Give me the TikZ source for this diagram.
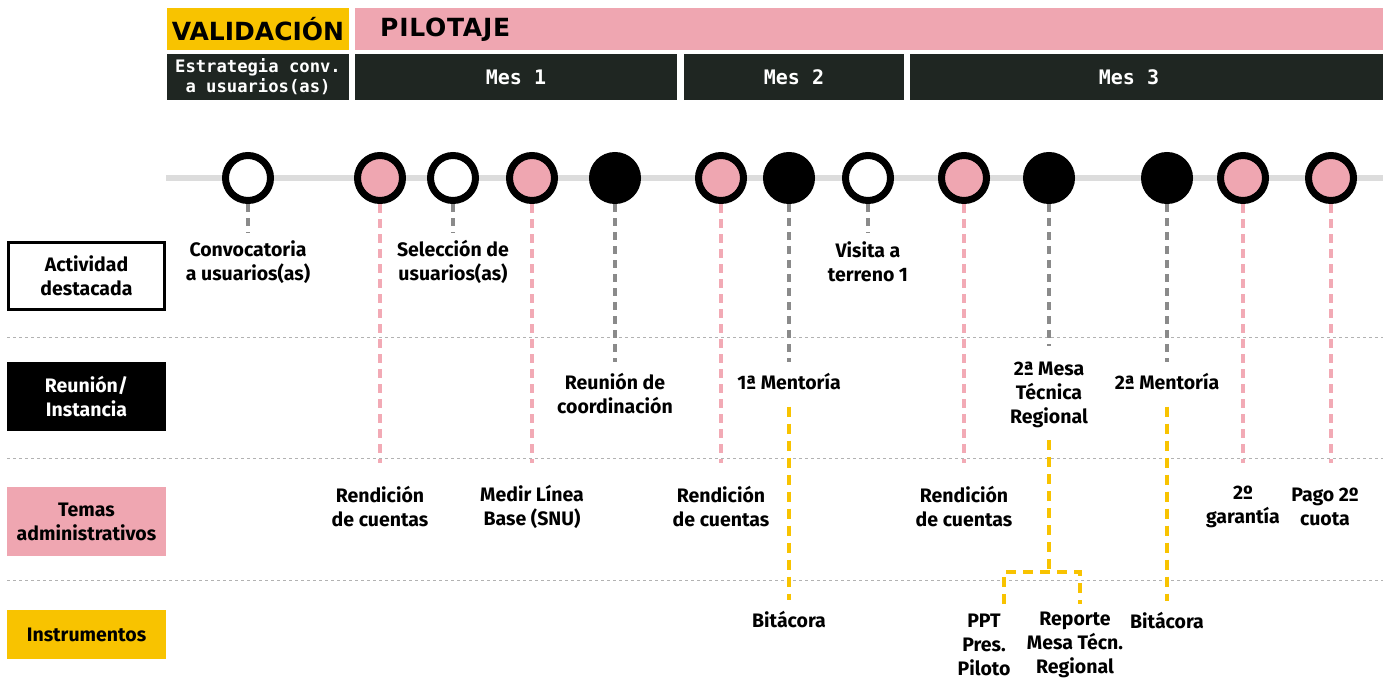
\documentclass[tikz,border=0pt]{standalone}
\usepackage{fontspec}
\setmainfont{Fira Sans}
\newfontfamily\cabfont{DejaVu Sans}
\newfontfamily\mesfont{DejaVu Sans Mono}
\usetikzlibrary{positioning}
\definecolor{amarillo}{HTML}{F8C300}
\definecolor{rosa}{HTML}{EFA6B1}
\definecolor{oscuro}{HTML}{1F2622}
\definecolor{linea}{HTML}{DCDCDC}
\definecolor{grisdash}{HTML}{8A8A8A}
\definecolor{rosadash}{HTML}{F2AAB5}
\tikzset{
	hito/.style={circle, draw=black, line width=7pt, minimum size=45pt, inner sep=0pt},
	hitoblanco/.style={hito, fill=white},
	hitorosa/.style={hito, fill=rosa},
	hitonegro/.style={hito, fill=black},
	etiqueta/.style={align=center, inner sep=0pt, font=\bfseries\fontsize{19.5}{24}\selectfont},
	caja/.style={align=center, inner sep=0pt, minimum width=159pt, font=\bfseries\fontsize{19.5}{24}\selectfont},
	mes/.style={fill=oscuro, text=white, inner sep=0pt, align=center},
	congris/.style={draw=grisdash, line width=4pt, dash pattern=on 8pt off 6pt},
	conrosa/.style={draw=rosadash, line width=4pt, dash pattern=on 9pt off 6pt},
	conamar/.style={draw=amarillo, line width=4pt, dash pattern=on 10pt off 7pt},
	separa/.style={draw=black!30, line width=0.8pt, dash pattern=on 3pt off 3pt}
}
\begin{document}
\begin{tikzpicture}[x=1pt,y=-1pt]
			%%%%% START %%%%%
			\useasboundingbox (0,0) rectangle (1383,683);
			
			% cabecera
			\node[mes, fill=amarillo, text=black, minimum width=182pt, minimum height=42pt, font=\cabfont\bfseries\fontsize{25}{30}\selectfont] (valid) at (258,29) {VALIDACIÓN};
			\fill[rosa] (355,8) rectangle (1383,50);
			\node[anchor=west, inner sep=0pt, font=\cabfont\bfseries\fontsize{25}{30}\selectfont] (pilot) at (380,30) {\addfontfeature{LetterSpace=3}PILOTAJE};
			
			\node[mes, minimum width=182pt, minimum height=46pt, font=\mesfont\bfseries\fontsize{17.2}{20}\selectfont] (estr) at (258,77) {Estrategia conv.\\a usuarios(as)};
			\fill[oscuro] (355,54) rectangle (677,100);
			\fill[oscuro] (684,54) rectangle (904,100);
			\fill[oscuro] (910,54) rectangle (1383,100);
			\node[text=white, inner sep=0pt, font=\mesfont\bfseries\fontsize{20}{20}\selectfont] (mes1) at (516,77) {Mes 1};
			\node[text=white, inner sep=0pt, font=\mesfont\bfseries\fontsize{20}{20}\selectfont] (mes2) at (794,77) {Mes 2};
			\node[text=white, inner sep=0pt, font=\mesfont\bfseries\fontsize{20}{20}\selectfont] (mes3) at (1129,77) {Mes 3};
			
			% filas
			\draw[separa] (7,337) -- (1383,337);
			\draw[separa] (7,458) -- (1383,458);
			\draw[separa] (7,580) -- (1383,580);
			
			\node[caja, draw=black, line width=3pt, minimum width=156pt, minimum height=67pt] (act) at (86.5,276) {Actividad\\destacada};
			\node[caja, fill=black, text=white, minimum height=69pt] (reu) at (86.5,396.5) {Reunión/\\Instancia};
			\node[caja, fill=rosa, minimum height=69pt] (tem) at (86.5,521.5) {Temas\\administrativos};
			\node[caja, fill=amarillo, minimum height=49pt] (ins) at (86.5,634.5) {Instrumentos};
			
			% linea de tiempo
			\draw[linea, line width=6pt] (166,178) -- (1383,178);
			
			\node[hitoblanco] (h1) at (248,178) {};
			\node[hitorosa] (h2) at (380,178) {};
			\node[hitoblanco] (h3) at (453,178) {};
			\node[hitorosa] (h4) at (532,178) {};
			\node[hitonegro] (h5) at (615,178) {};
			\node[hitorosa] (h6) at (721,178) {};
			\node[hitonegro] (h7) at (789,178) {};
			\node[hitoblanco] (h8) at (868,178) {};
			\node[hitorosa] (h9) at (964,178) {};
			\node[hitonegro] (h10) at (1049,178) {};
			\node[hitonegro] (h11) at (1167,178) {};
			\node[hitorosa] (h12) at (1243,178) {};
			\node[hitorosa] (h13) at (1331,178) {};
			
			% textos
			\node[etiqueta] (convo) at (248,262) {Convocatoria\\a usuarios(as)};
			\node[etiqueta] (selec) at (453,262) {Selección de\\usuarios(as)};
			\node[etiqueta] (visita) at (868,262) {Visita a\\terreno 1};
			\node[etiqueta] (coord) at (615,394) {Reunión de\\coordinación};
			\node[etiqueta] (ment1) at (789,382) {1ª Mentoría};
			\node[etiqueta] (mesa2) at (1049,395) {2ª Mesa\\Técnica\\Regional};
			\node[etiqueta] (ment2) at (1167,382) {2ª Mentoría};
			\node[etiqueta] (rend1) at (380,507) {Rendición\\de cuentas};
			\node[etiqueta] (linea) at (532,507) {Medir Línea\\Base (SNU)};
			\node[etiqueta] (rend2) at (721,507) {Rendición\\de cuentas};
			\node[etiqueta] (rend3) at (964,507) {Rendición\\de cuentas};
			\node[etiqueta] (garan) at (1243,507) {2º\\garantía};
			\node[etiqueta] (pago) at (1325,507) {Pago 2º\\cuota};
			\node[etiqueta] (bit1) at (789,620) {Bitácora};
			\node[etiqueta] (bit2) at (1167,621) {Bitácora};
			\node[etiqueta] (ppt) at (984,645) {PPT\\Pres.\\Piloto};
			\node[etiqueta] (rep) at (1075,645) {Reporte\\Mesa Técn.\\Regional};
			
			% conectores
			\coordinate (f1) at (248,233);
			\coordinate (f3) at (453,233);
			\coordinate (f8) at (868,233);
			\coordinate (f5) at (615,362);
			\coordinate (f7) at (789,362);
			\coordinate (f10) at (1049,346);
			\coordinate (f11) at (1167,362);
			\coordinate (fr) at (0,463);
			
			\draw[congris] (h1.south) -- (f1);
			\draw[congris] (h3.south) -- (f3);
			\draw[congris] (h8.south) -- (f8);
			\draw[congris] (h5.south) -- (f5);
			\draw[congris] (h7.south) -- (f7);
			\draw[congris] (h10.south) -- (f10);
			\draw[congris] (h11.south) -- (f11);
			
			\foreach \h in {h2,h4,h6,h9,h12,h13}
				\draw[conrosa] (\h.south) -- (\h.south |- fr);
			
			\draw[conamar] ([yshift=-16pt]ment1.south) -- ([yshift=12pt]bit1.north);
			\draw[conamar] ([yshift=-16pt]ment2.south) -- ([yshift=12pt]bit2.north);
			
			\coordinate (bkm) at (1049,572);
			\coordinate (bkl) at (1004,604);
			\coordinate (bkr) at (1080,604);
			\draw[conamar] ([yshift=-12pt]mesa2.south) -- (bkm);
			\draw[conamar] (bkl) |- (bkm) -| (bkr);
			
			%%%%% END %%%%%
\end{tikzpicture}
\end{document}
